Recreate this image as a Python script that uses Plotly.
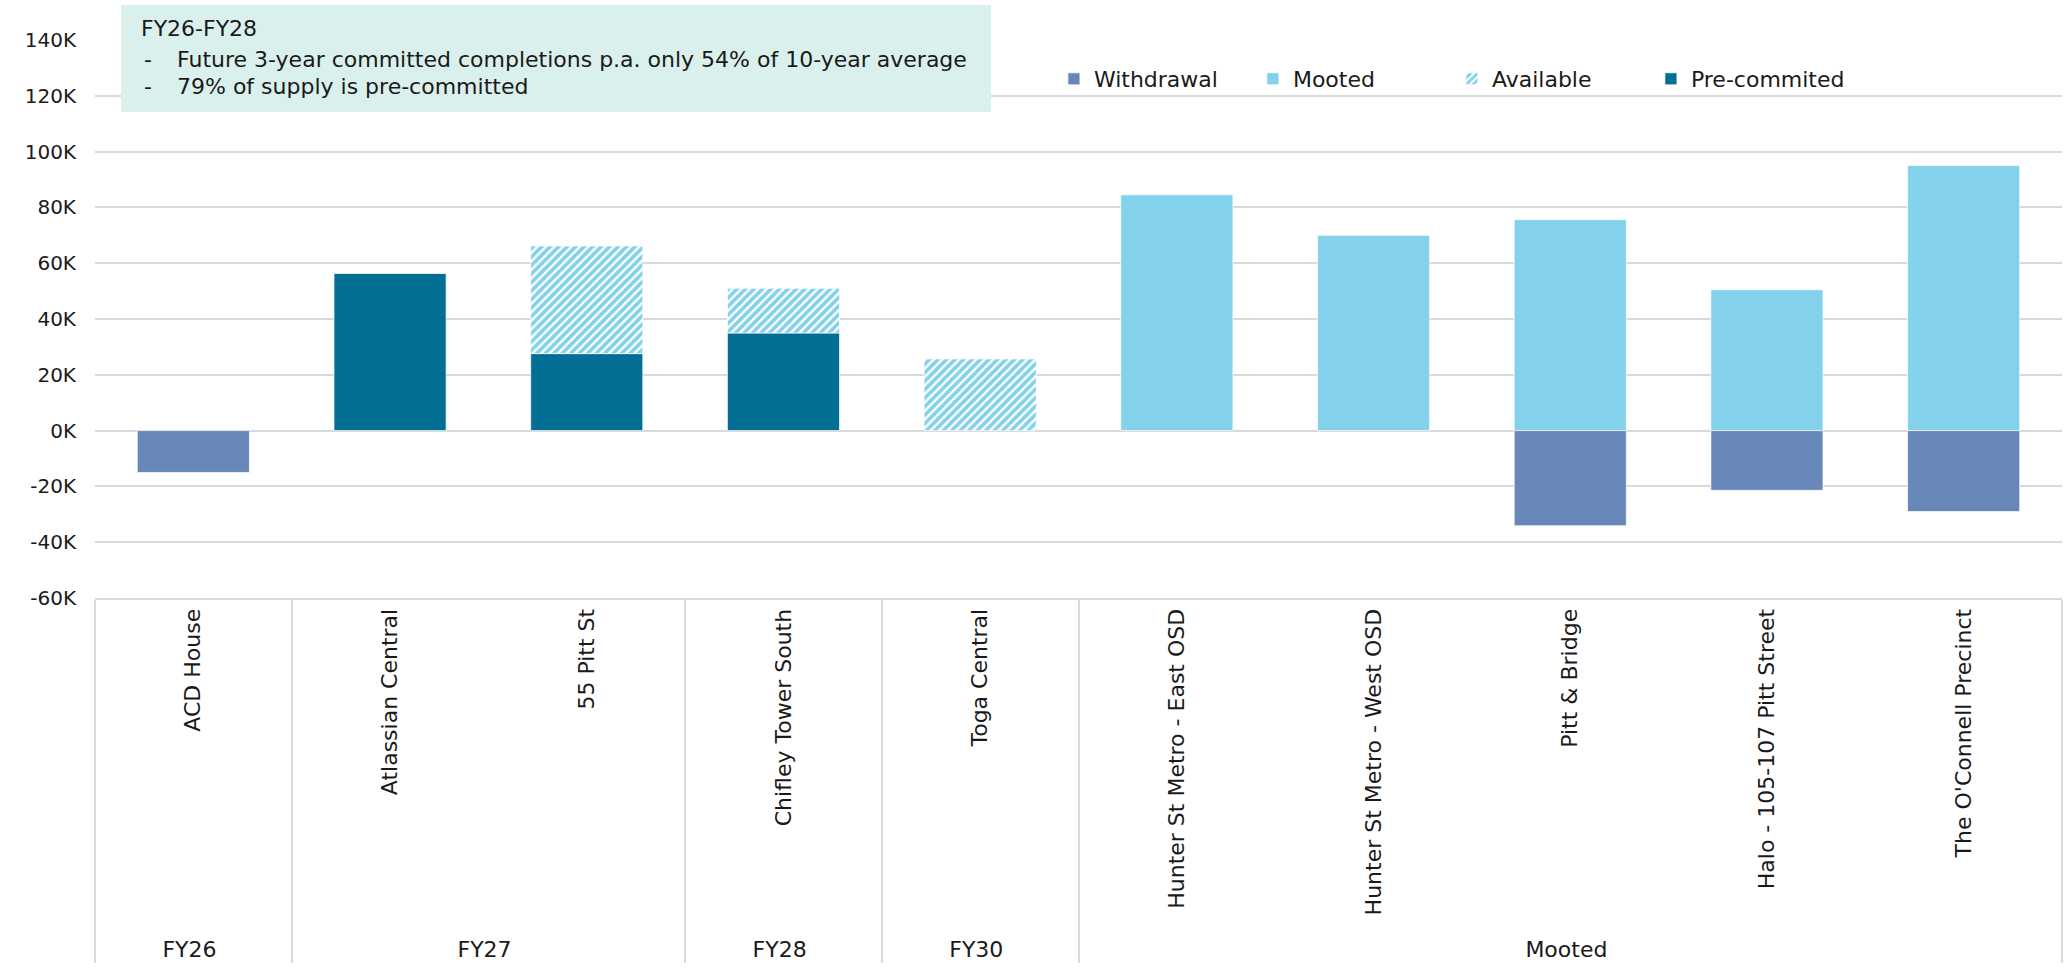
import plotly.graph_objects as go

# ---- data (thousands of sqm) ----
groups = ["FY26", "FY27", "FY27", "FY28", "FY30", "Mooted", "Mooted", "Mooted", "Mooted", "Mooted"]
projects = ["ACD House", "Atlassian Central", "55 Pitt St", "Chifley Tower South", "Toga Central",
            "Hunter St Metro - East OSD", "Hunter St Metro - West OSD", "Pitt & Bridge",
            "Halo - 105-107 Pitt Street", "The O'Connell Precinct"]
withdrawal = [-15, None, None, None, None, None, None, -34.1, -21.4, -29.0]
mooted = [None, None, None, None, None, 84.5, 70.0, 75.6, 50.5, 95.0]
available = [None, None, 38.6, 16.0, 25.7, None, None, None, None, None]
precommitted = [None, 56.3, 27.6, 35.0, None, None, None, None, None, None]

tick_vals = [-60, -40, -20, 0, 20, 40, 60, 80, 100, 120, 140]
tick_text = ["-60K", "-40K", "-20K", "0K", "20K", "40K", "60K", "80K", "100K", "120K", "140K"]

note_title = "FY26-FY28"
note_lines = ["Future 3-year committed completions p.a. only 54% of 10-year average",
              "79% of supply is pre-committed"]

C_WITH = "#6787B9"
C_MOOT = "#83D1EA"
C_PRE = "#036F94"
FONT = "DejaVu Sans"
TXT = "#1a1a1a"

x = [groups, projects]
edge = dict(width=1, color="rgba(255,255,255,0.7)")

fig = go.Figure()
fig.add_trace(go.Bar(x=x, y=precommitted, name="Pre-commited", marker=dict(color=C_PRE, line=edge),
                     legendrank=4))
fig.add_trace(go.Bar(x=x, y=available, name="Available",
                     marker=dict(color=C_MOOT, line=edge,
                                 pattern=dict(shape="/", fgcolor=C_MOOT, bgcolor="white",
                                              size=6, solidity=0.6, fgopacity=1)),
                     legendrank=3))
fig.add_trace(go.Bar(x=x, y=mooted, name="Mooted", marker=dict(color=C_MOOT, line=edge), legendrank=2))
fig.add_trace(go.Bar(x=x, y=withdrawal, name="Withdrawal", marker=dict(color=C_WITH, line=edge),
                     legendrank=1))

PH = 558  # plot height in px (40 -> 598)

fig.update_layout(
    width=2064, height=973,
    barmode="relative", bargap=0.43,
    plot_bgcolor="white", paper_bgcolor="white",
    margin=dict(l=95, r=2, t=40, b=375),
    font=dict(family=FONT, size=20, color=TXT),
    showlegend=True,
    hovermode=False,
    legend=dict(orientation="h", x=0.4875, xanchor="left", y=(598 - 79) / PH, yanchor="middle",
                font=dict(family=FONT, size=22, color=TXT),
                entrywidth=154, entrywidthmode="pixels", bgcolor="rgba(0,0,0,0)",
                traceorder="normal"),
)

fig.update_yaxes(range=[-60, 140], tickvals=tick_vals, ticktext=tick_text,
                 showgrid=True, gridcolor="#D9D9D9", gridwidth=2,
                 zeroline=True, zerolinecolor="#D9D9D9", zerolinewidth=2,
                 showline=False, ticks="", ticklabelstandoff=18,
                 tickfont=dict(family=FONT, size=20, color=TXT))
fig.update_xaxes(type="multicategory", tickangle=-90, showgrid=False,
                 showline=True, linecolor="#D9D9D9", linewidth=2,
                 showdividers=True, dividercolor="#D9D9D9", dividerwidth=1.5,
                 ticks="", tickfont=dict(family=FONT, size=22, color=TXT))

# note box
fig.add_shape(type="rect", xref="paper", yref="paper", x0=(121 - 95) / 1967, x1=(991 - 95) / 1967,
              y0=(598 - 112) / PH, y1=(598 - 5) / PH,
              fillcolor="#DAF0EC", line=dict(width=0), layer="above")
fig.add_annotation(xref="paper", yref="paper", x=(139 - 95) / 1967, y=(598 - 28) / PH, xanchor="left",
                   yanchor="middle", text=note_title, showarrow=False,
                   font=dict(family=FONT, size=22, color=TXT))
for i, line in enumerate(note_lines):
    yy = (598 - (59 + 28 * i)) / PH
    fig.add_annotation(xref="paper", yref="paper", x=(142 - 95) / 1967, y=yy, xanchor="left",
                       yanchor="middle", text="-", showarrow=False,
                       font=dict(family=FONT, size=22, color=TXT))
    fig.add_annotation(xref="paper", yref="paper", x=(175 - 95) / 1967, y=yy, xanchor="left",
                       yanchor="middle", text=line, showarrow=False,
                       font=dict(family=FONT, size=22, color=TXT))

fig.write_html("out.html", config={"displayModeBar": False},
               post_script="document.body.style.margin='0';document.body.style.overflow='hidden';")
